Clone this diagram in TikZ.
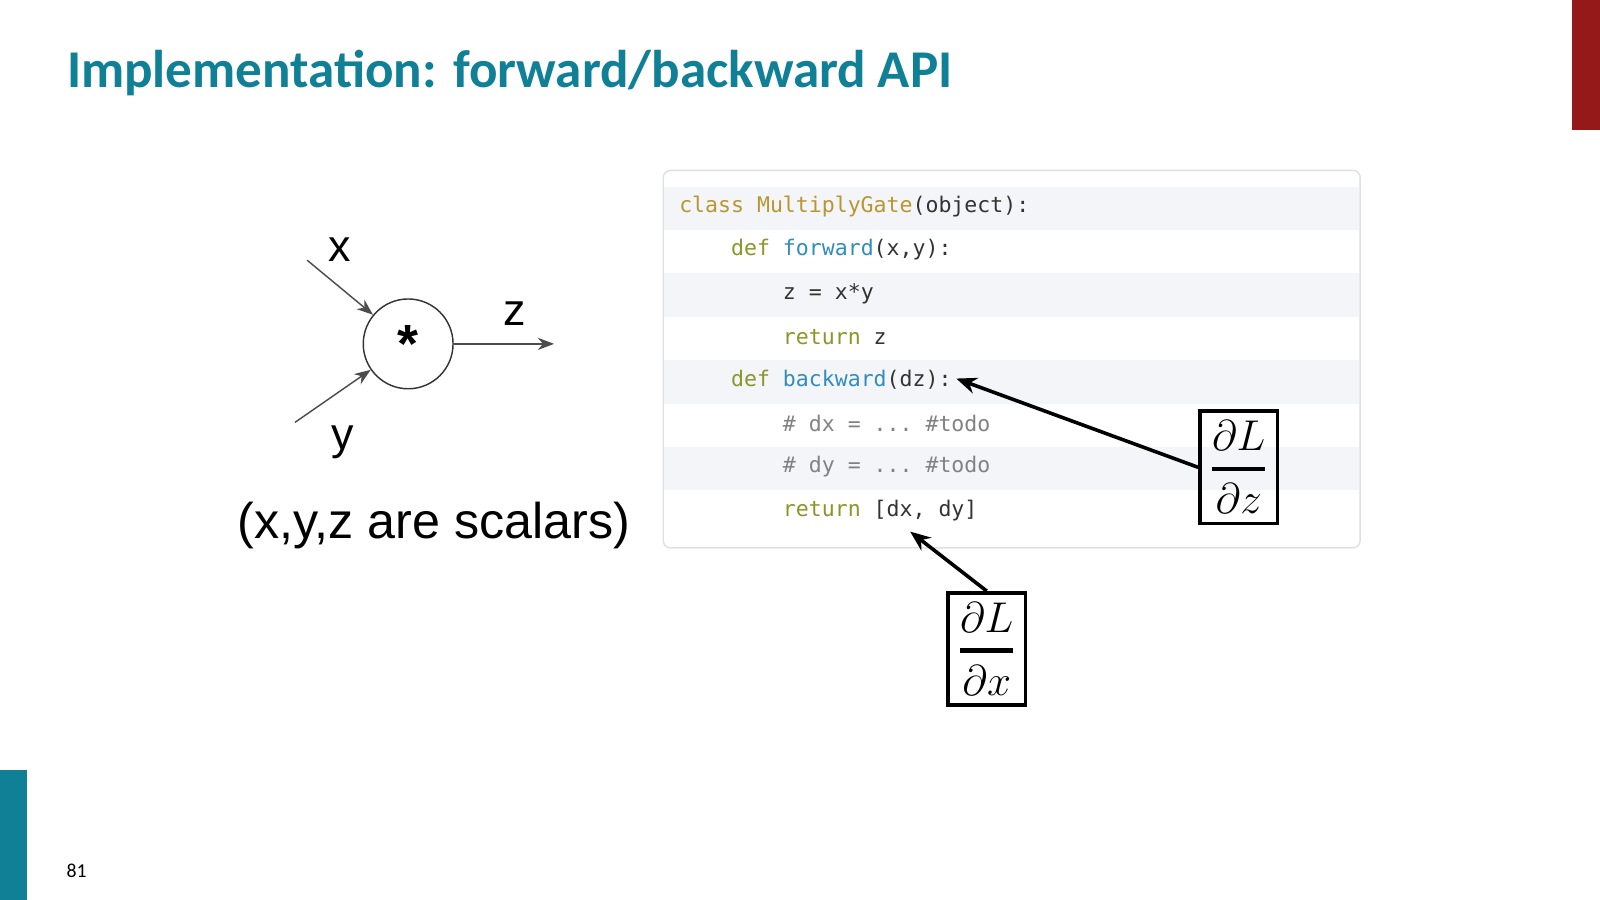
\documentclass[tikz,border=0pt]{standalone}
\usepackage{fontspec}
\usepackage{amsmath}
\setmainfont{Carlito}
\newfontfamily\arialfont{Liberation Sans}
\setmonofont{DejaVu Sans Mono}
\usetikzlibrary{arrows.meta, positioning}
\definecolor{titleteal}{RGB}{16,128,150}
\definecolor{barred}{RGB}{150,25,25}
\definecolor{kwcol}{RGB}{140,150,40}
\definecolor{clscol}{RGB}{185,150,50}
\definecolor{fncol}{RGB}{50,140,190}
\definecolor{cmcol}{RGB}{130,130,130}
\definecolor{stripe}{RGB}{243,245,248}
\tikzset{
codeline/.style={anchor=west, inner sep=0pt, font=\fontsize{6}{7}\selectfont\ttfamily, text=black!80},
varlabel/.style={font=\arialfont\fontsize{12.5}{14}\selectfont},
gradbox/.style={draw, line width=1pt, inner sep=2pt, minimum width=76*0.01cm, minimum height=110*0.01cm, font=\fontsize{13}{15}\selectfont}
}
\newcommand{\kw}[1]{\textcolor{kwcol}{#1}}
\newcommand{\fn}[1]{\textcolor{fncol}{#1}}
\newcommand{\thickfrac}[2]{{\begingroup#1\endgroup\above 1.2pt #2}}
\begin{document}
\begin{tikzpicture}[x=0.01cm, y=-0.01cm,
        >={Stealth[length=2mm, width=1.6mm]}]
    \useasboundingbox (0,0) rectangle (1568,882);

    % slide frame
    \fill[barred] (1541,0) rectangle (1568,127);
    \fill[titleteal] (0,755) rectangle (26,882);
    \node[anchor=west, inner sep=0pt, text=titleteal, font=\fontsize{14.8}{17}\selectfont\bfseries] (title) at (65,72) {Implementation: forward/backward API};
    \node[inner sep=0pt, font=\fontsize{5.5}{6}\selectfont] (page) at (75,853) {81};

    % gate
    \node[circle, draw=black!80, minimum size=88*0.01cm, inner sep=0pt, font=\arialfont\bfseries\fontsize{15}{16}\selectfont] (gate) at (400,337) {*};
    \coordinate (xin) at (301,255);
    \coordinate (yin) at (289,414);
    \coordinate (zout) at (543,337);
    \draw[->, black!70, >={Stealth[length=1.6mm, width=1.2mm]}] (xin) -- (gate);
    \draw[->, black!70, >={Stealth[length=1.6mm, width=1.2mm]}] (yin) -- (gate);
    \draw[->, black!70, >={Stealth[length=1.6mm, width=1.2mm]}] (gate.east) -- (zout);
    \node[varlabel] (xlab) at (333,245) {x};
    \node[varlabel] (zlab) at (504,307) {z};
    \node[varlabel] (ylab) at (336,433) {y};
    \node[varlabel, font=\arialfont\fontsize{14}{16}\selectfont] (note) at (425,515) {(x,y,z are scalars)};

    % code block
    \draw[black!12, fill=white, rounded corners=2pt] (650,167) rectangle (1333,537);
    \foreach \r in {0,2,4,6} {
        \fill[stripe] (651,183+\r*42.5) rectangle (1332,183+\r*42.5+42.5);
    }
    \node[codeline] (l1) at (665,202) {\textcolor{clscol}{class MultiplyGate}(object):};
    \node[codeline] (l2) at (665,245) {\phantom{xxxx}\kw{def} \fn{forward}(x,y):};
    \node[codeline] (l3) at (665,288) {\phantom{xxxxxxxx}z = x*y};
    \node[codeline] (l4) at (665,330) {\phantom{xxxxxxxx}\kw{return} z};
    \node[codeline] (l5) at (665,372) {\phantom{xxxx}\kw{def} \fn{backward}(dz):};
    \node[codeline] (l6) at (665,415) {\phantom{xxxxxxxx}\textcolor{cmcol}{\# dx = ... \#todo}};
    \node[codeline] (l7) at (665,457) {\phantom{xxxxxxxx}\textcolor{cmcol}{\# dy = ... \#todo}};
    \node[codeline] (l8) at (665,500) {\phantom{xxxxxxxx}\kw{return} [dx, dy]};

    % gradients
    \node[gradbox] (dz) at (1214,458) {$\displaystyle\thickfrac{\partial L}{\partial z}$};
    \node[gradbox] (dx) at (967,636) {$\displaystyle\thickfrac{\partial L}{\partial x}$};
    \draw[->, line width=1pt] (dz.west) -- ([xshift=4*0.01cm, yshift=1*0.01cm]l5.east);
    \draw[->, line width=1pt] (dx.north) -- (892,521);
\end{tikzpicture}
\end{document}
